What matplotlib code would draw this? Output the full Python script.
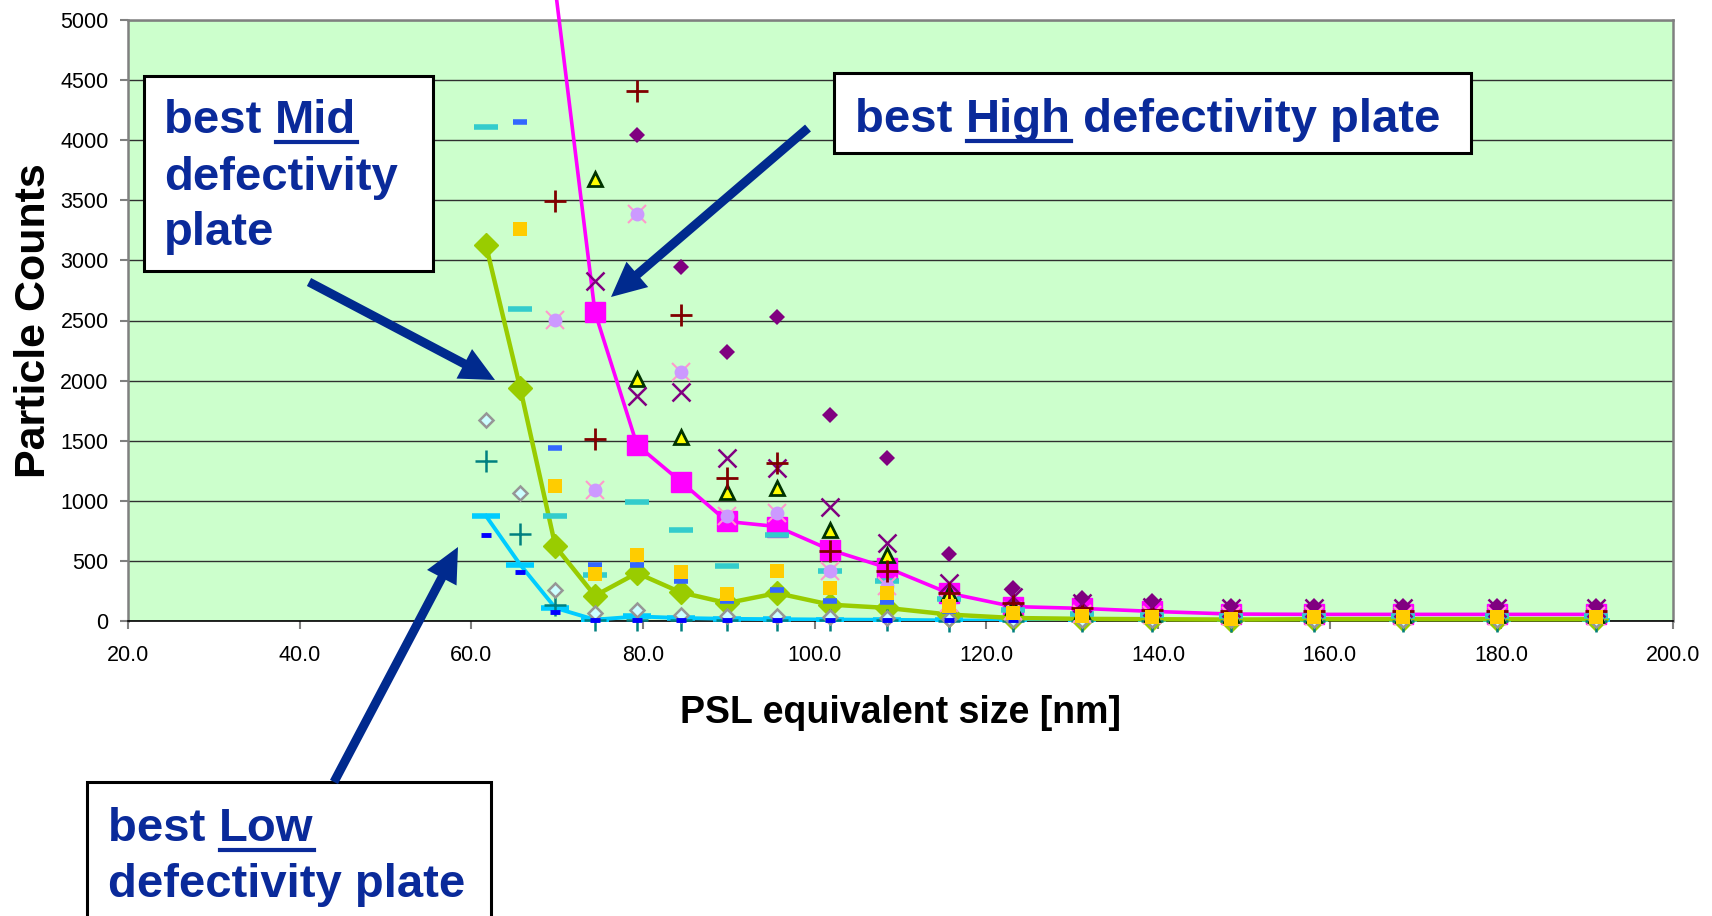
import matplotlib
matplotlib.use("Agg")
import matplotlib.pyplot as plt
from matplotlib import font_manager
from matplotlib.patches import Rectangle, FancyArrowPatch, ArrowStyle
import numpy as np

nan = np.nan

# PSL equivalent size bins [nm]
sizes = [61.7, 65.7, 69.8, 74.4, 79.3, 84.4, 89.8, 95.6, 101.8, 108.4,
         115.6, 123.1, 131.1, 139.3, 148.5, 158.2, 168.5, 179.5, 191.0]

# highlighted plates (lines)
high_plate = [nan, nan, 5250, 2570, 1465, 1160, 828, 786, 592, 444,
              232, 120, 105, 80, 58, 55, 55, 55, 55]
mid_plate = [3127, 1936, 620, 210, 399, 238, 149, 232, 136, 109,
             54, 25, 18, 15, 12, 15, 15, 15, 15]
low_plate = [875, 468, 108, 11, 38, 25, 18, 15, 12, 10,
             5, 3, 3, 3, 3, 3, 3, 3, 3]

# other plates (markers only)
red_plus = [nan, nan, 3495, 1512, 4407, 2545, 1189, 1316, 580, 420,
            236, 150, 110, 90, 80, 80, 80, 80, 80]
purple_diamond = [nan, nan, nan, nan, 4041, 2947, 2241, 2526, 1715, 1354,
                  559, 276, 192, 163, 127, 127, 127, 127, 127]
purple_x = [nan, nan, nan, 2828, 1872, 1908, 1354, 1270, 947, 648,
            315, 200, 150, 120, 110, 110, 110, 110, 110]
yellow_tri = [nan, nan, nan, 3681, 2011, 1529, 1077, 1104, 758, 553,
              232, 120, 80, 60, 50, 50, 50, 50, 50]
lavender = [nan, nan, 2504, 1091, 3390, 2074, 875, 898, 412, 290,
            150, 80, 60, 50, 40, 40, 40, 40, 40]
orange_sq = [nan, 3263, 1119, 390, 551, 404, 227, 412, 274, 232,
             127, 67, 45, 36, 18, 30, 30, 30, 30]
teal_dash = [4110, 2592, 875, 385, 994, 753, 454, 717, 412, 329,
             180, 90, 60, 50, 40, 40, 40, 40, 40]
blue_dash = [nan, 4152, 1443, 468, 468, 329, 163, 260, 163, 154,
             80, 40, 30, 25, 20, 20, 20, 20, 20]
navy_dash = [712, 407, 75, 10, 10, 10, 8, 8, 8, 8,
             5, 5, 5, 5, 5, 5, 5, 5, 5]
teal_plus = [1327, 723, 135, 8, 8, 8, 5, 5, 5, 5,
             3, 3, 3, 3, 3, 3, 3, 3, 3]
open_diamond = [1673, 1063, 255, 66, 94, 52, 40, 40, 30, 25,
                15, 10, 10, 10, 10, 10, 10, 10, 10]

x_ticks = [20, 40, 60, 80, 100, 120, 140, 160, 180, 200]
y_ticks = [0, 500, 1000, 1500, 2000, 2500, 3000, 3500, 4000, 4500, 5000]

plt.rcParams['font.family'] = ['Liberation Sans', 'DejaVu Sans']
installed = {f.name for f in font_manager.fontManager.ttflist}
if 'Liberation Sans Narrow' in installed:
    tick_family, tick_size = 'Liberation Sans Narrow', 19
else:
    tick_family, tick_size = 'Liberation Sans', 15.5

W, H = 1712, 916
fig = plt.figure(figsize=(W / 100, H / 100), dpi=100)
ax = fig.add_axes([128 / W, 1 - 621 / H, (1673 - 128) / W, (621 - 20) / H])
ax.set_facecolor('#CCFFCC')

# lines
ax.plot(sizes, low_plate, color='#00CCFF', lw=2.8, marker='_', ms=20, mew=4, zorder=3)
ax.plot(sizes, high_plate, color='#FF00FF', lw=2.6, marker='s', ms=14, zorder=3,
        clip_on=False, markevery=list(range(3, len(sizes))))
ax.plot(sizes, mid_plate, color='#99CC00', lw=3.2, marker='D', ms=12.5, zorder=3, clip_on=False)

# scatter-type plates
kw = dict(ls='none', clip_on=False, zorder=4)
ax.plot(sizes, teal_plus, marker='+', color='#008080', ms=16, mew=1.8, **kw)
ax.plot(sizes, open_diamond, marker='D', mfc='#CCFFFF', mec='#969696', ms=7, mew=1.8, **kw)
ax.plot(sizes, navy_dash, marker='_', color='#0000FF', ms=7, mew=3.5, **kw)
ax.plot(sizes, blue_dash, marker='_', color='#3366FF', ms=10, mew=4, **kw)
ax.plot(sizes, teal_dash, marker='_', color='#33CCCC', ms=17, mew=4, **kw)
ax.plot(sizes, lavender, marker='x', color='#FF99CC', ms=13, mew=1.5, **kw)
ax.plot(sizes, lavender, marker='o', color='#CC99FF', ms=10, mew=0, **kw)
ax.plot(sizes, yellow_tri, marker='^', mfc='#FFFF00', mec='#003300', ms=10, mew=2, **kw)
ax.plot(sizes, purple_x, marker='x', color='#800080', ms=13, mew=1.8, **kw)
ax.plot(sizes, red_plus, marker='+', color='#800000', ms=16, mew=2, **kw)
ax.plot(sizes, purple_diamond, marker='D', color='#800080', ms=8, mew=0, **kw)
ax.plot(sizes, orange_sq, marker='s', color='#FFCC00', ms=10, mew=0, **kw)

ax.set_xlim(20, 200)
ax.set_ylim(0, 5000)
ax.set_xticks(x_ticks)
ax.set_yticks(y_ticks)
ax.set_xticklabels(['%.1f' % v for v in x_ticks])
ax.grid(axis='y', color='#303030', lw=1.0)
ax.set_axisbelow(True)
for s in ['top', 'right', 'left']:
    ax.spines[s].set_color('#808080')
    ax.spines[s].set_linewidth(1.8)
ax.spines['bottom'].set_color('black')
ax.spines['bottom'].set_linewidth(1.2)
ax.tick_params(axis='both', color='#808080', width=1.5, length=6)
ax.tick_params(axis='x', pad=11)
ax.tick_params(axis='y', pad=8)
for lab in ax.get_xticklabels() + ax.get_yticklabels():
    lab.set_family([tick_family, 'DejaVu Sans'])
    lab.set_fontsize(tick_size)

ax.set_xlabel('PSL equivalent size [nm]', fontsize=27, fontweight='bold')
ax.xaxis.set_label_coords(0.5, (621 - 695) / 601)
ax.set_ylabel('Particle Counts', fontsize=31, fontweight='bold')
ax.yaxis.set_label_coords((54 - 128) / 1545, 0.5)

# annotation boxes (figure pixels, y from top)
blue = '#0A2A9A'
navy = '#002A8E'


def fx(x):
    return x / W


def fy(y):
    return 1 - y / H


def add_box(x0, y0, x1, y1):
    fig.add_artist(Rectangle((fx(x0), fy(y1)), (x1 - x0) / W, (y1 - y0) / H,
                             transform=fig.transFigure, fc='white', ec='black',
                             lw=2.2, zorder=5, clip_on=False))


txt_kw = dict(fontsize=34, fontweight='bold', color=blue, va='baseline', zorder=6)
renderer = fig.canvas.get_renderer()


def width_px(s):
    t = fig.text(0, 0, s, **txt_kw)
    w = t.get_window_extent(renderer).width
    t.remove()
    return w


def add_label(x, base_lines, word, rest_lines):
    # first line is "best <word>" with the word underlined
    y0 = base_lines[0]
    fig.text(fx(x), fy(y0), 'best ', **txt_kw)
    xw = x + width_px('best ' + word + rest_lines[0]) - width_px(word + rest_lines[0])
    fig.text(fx(xw), fy(y0), word, **txt_kw)
    ww = width_px(word)
    fig.add_artist(plt.Line2D([fx(xw + 1), fx(xw + ww + 1)], [fy(y0 + 9), fy(y0 + 9)],
                              transform=fig.transFigure, color=blue, lw=3, zorder=6))
    if rest_lines[0]:
        fig.text(fx(xw + width_px(word + rest_lines[0]) - width_px(rest_lines[0])), fy(y0),
                 rest_lines[0], **txt_kw)
    for yb, s in zip(base_lines[1:], rest_lines[1:]):
        fig.text(fx(x), fy(yb), s, **txt_kw)


add_box(144, 76, 433, 271)
add_label(164, [133, 190, 245], 'Mid', ['', 'defectivity', 'plate'])
add_box(834, 73, 1471, 153)
add_label(855, [132], 'High', [' defectivity plate'])
add_box(87, 782, 491, 940)
add_label(108, [841, 897], 'Low', ['', 'defectivity plate'])

style = ArrowStyle('simple', head_length=2.5, head_width=2.4, tail_width=0.65)
for (x0, y0), (x1, y1) in [((808, 128), (611, 297)),
                           ((309, 282), (495, 380)),
                           ((334, 782), (458, 547))]:
    fig.add_artist(FancyArrowPatch((fx(x0), fy(y0)), (fx(x1), fy(y1)),
                                   transform=fig.transFigure, arrowstyle=style,
                                   mutation_scale=10, color=navy, lw=0,
                                   shrinkA=0, shrinkB=0, zorder=7))

fig.savefig('out.png', dpi=100)
